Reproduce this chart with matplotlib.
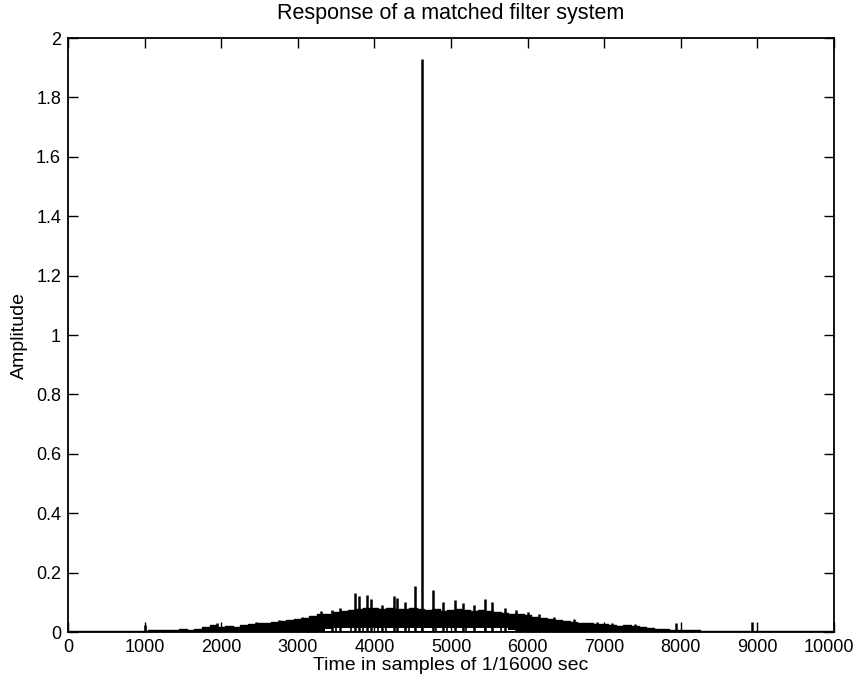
import numpy as np
import matplotlib
matplotlib.use("Agg")
import matplotlib.pyplot as plt
import matplotlib.transforms as mtransforms

plt.rcParams['font.family'] = ['Liberation Sans', 'DejaVu Sans']

# upper edge of the filter output noise, one value per 100 samples
env_t = np.arange(0, 10001, 100)
env_top = [
    0.003, 0.003, 0.003, 0.003, 0.003, 0.003, 0.003, 0.003, 0.003, 0.003,
    0.005, 0.008, 0.006, 0.008, 0.007, 0.009, 0.008, 0.010, 0.018, 0.022,
    0.016, 0.020, 0.018, 0.025, 0.028, 0.030, 0.032, 0.035, 0.038, 0.042,
    0.045, 0.048, 0.055, 0.060, 0.062, 0.066, 0.070, 0.074, 0.078, 0.080,
    0.082, 0.078, 0.080, 0.078, 0.076, 0.080, 0.078, 0.075, 0.078, 0.072,
    0.075, 0.078, 0.074, 0.070, 0.075, 0.072, 0.068, 0.065, 0.062, 0.060,
    0.058, 0.052, 0.048, 0.045, 0.040, 0.038, 0.035, 0.032, 0.030, 0.028,
    0.026, 0.022, 0.020, 0.022, 0.020, 0.018, 0.012, 0.010, 0.009, 0.008,
    0.008, 0.007, 0.006, 0.005, 0.003, 0.003, 0.003, 0.003, 0.003, 0.003,
    0.003, 0.003, 0.003, 0.003, 0.003, 0.003, 0.003, 0.003, 0.003, 0.003,
    0.003,
]
# lower edge of the noise (it lifts off zero in the middle)
env_bot = [0.0] * 34 + [0.010] + [0.013] * 23 + [0.006] + [0.0] * 42

# isolated spikes above the noise: sample index, amplitude
spike_t = [1000, 1950, 2450, 2750, 3050, 3300, 3450, 3550, 3750, 3800,
           3900, 3950, 4100, 4250, 4300, 4400, 4530, 4770, 4900, 5050,
           5160, 5300, 5440, 5530, 5700, 5850, 6000, 6150, 6350, 6600,
           6900, 7100, 7400, 7940, 8930]
spike_a = [0.024, 0.030, 0.035, 0.040, 0.050, 0.070, 0.075, 0.080, 0.130, 0.120,
           0.125, 0.110, 0.090, 0.120, 0.115, 0.100, 0.155, 0.140, 0.100, 0.107,
           0.097, 0.090, 0.110, 0.100, 0.080, 0.075, 0.068, 0.060, 0.050, 0.045,
           0.035, 0.030, 0.028, 0.030, 0.033]

# dips reaching back down to zero inside the lifted part
dip_t = [3500, 3700, 3850, 4050, 4150, 4450, 4620, 4800, 4950, 5200, 5450, 5650]

# matched filter peak
peak_t = 4620
peak_a = 1.93

fig = plt.figure(figsize=(8.58, 6.84), dpi=100)
ax = fig.add_axes([0.0793, 0.076, 0.8927, 0.8684])

ax.fill_between(env_t, env_bot, env_top, step='mid', color='black', lw=0)
ax.plot(env_t, env_top, drawstyle='steps-mid', color='black', lw=1.0)
ax.vlines(spike_t, 0, spike_a, color='black', lw=1.8)
ax.vlines(dip_t, 0, 0.015, color='black', lw=1.2)
ax.vlines([peak_t], 0, [peak_a], color='black', lw=1.8)
ax.axhline(0, color='black', lw=1.3)

ax.set_xlim(0, 10000)
ax.set_ylim(0, 2)
ax.set_xticks(np.arange(0, 10001, 1000))
ax.set_yticks(np.arange(0, 2.01, 0.2))
ax.set_yticklabels(['0', '0.2', '0.4', '0.6', '0.8', '1', '1.2', '1.4', '1.6', '1.8', '2'])
ax.tick_params(direction='in', length=7, width=1, top=True, right=True,
               labelsize=13, pad=5)
for s in ax.spines.values():
    s.set_linewidth(1.3)

# nudge the last x label so it stays inside the figure
last = ax.get_xticklabels()[-1]
last.set_transform(last.get_transform() +
                   mtransforms.ScaledTranslation(-5 / 100, 0, fig.dpi_scale_trans))

ax.set_title('Response of a matched filter system', fontsize=15.5, pad=14)
ax.set_xlabel('Time in samples of 1/16000 sec', fontsize=14, labelpad=1)
ax.set_ylabel('Amplitude', fontsize=14, labelpad=6)

fig.savefig('out.png', dpi=100)
